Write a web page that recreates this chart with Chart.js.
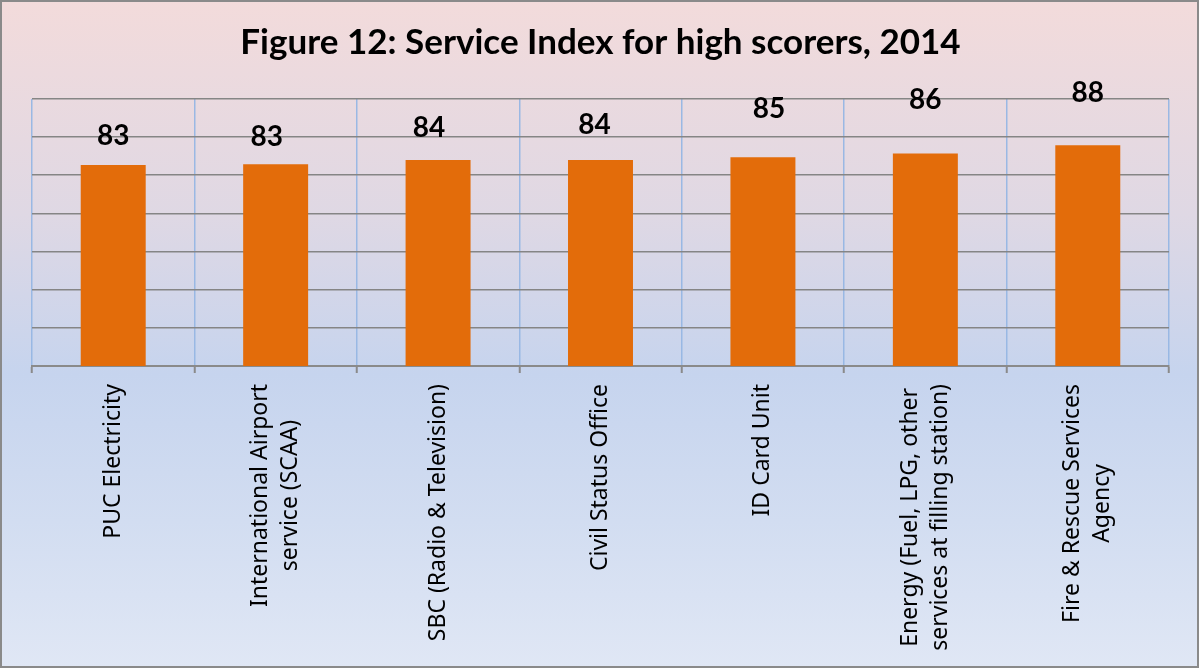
<!DOCTYPE html>
<html>
<head>
<meta charset="utf-8">
<script src="https://cdn.jsdelivr.net/npm/chart.js@4.4.1/dist/chart.umd.min.js"></script>
<style>
  html, body { margin: 0; padding: 0; }
  #wrap {
    position: relative; width: 1199px; height: 668px; overflow: hidden;
    background: linear-gradient(to bottom, #F3DBDB 0%, #DFD8E4 32%, #C6D4EE 56%, #D2DDF1 78%, #E0E7F5 100%);
  }
  #frame {
    position: absolute; left: 0; top: 0; width: 1199px; height: 668px;
    box-sizing: border-box; border: 2px solid #8a8a8a; pointer-events: none;
  }
  canvas { position: absolute; left: 0; top: 0; }
</style>
</head>
<body>
<div id="wrap">
  <canvas id="c" width="1199" height="668" style="width:1199px;height:668px;"></canvas>
  <div id="frame"></div>
</div>
<script>
// ---- data ----
const chartTitle = "Figure 12: Service Index for high scorers, 2014";
const categories = [
  ["PUC Electricity"],
  ["International Airport", "service (SCAA)"],
  ["SBC (Radio & Television)"],
  ["Civil Status Office"],
  ["ID Card Unit"],
  ["Energy (Fuel, LPG, other", "services at filling station)"],
  ["Fire & Rescue Services", "Agency"]
];
const serviceIndex = [82.7, 82.9, 84.0, 84.0, 84.7, 85.7, 87.9];
const yAxisMin = 30;
const yAxisMax = 100;
const yAxisStep = 10;

// ---- plugins ----
const valueLabels = {
  id: 'valueLabels',
  afterDatasetsDraw(chart, args, opts) {
    const ctx = chart.ctx;
    const meta = chart.getDatasetMeta(0);
    const data = chart.data.datasets[0].data;
    ctx.save();
    ctx.font = opts.font;
    ctx.fillStyle = opts.color;
    ctx.textAlign = 'center';
    ctx.textBaseline = 'middle';
    meta.data.forEach((bar, i) => {
      const n = opts.nudge[i] || [0, -30];
      ctx.fillText(String(Math.round(data[i])), bar.x + n[0], bar.y + n[1]);
    });
    ctx.restore();
  }
};

const categoryLabels = {
  id: 'categoryLabels',
  afterDraw(chart, args, opts) {
    const ctx = chart.ctx;
    const xs = chart.scales.x;
    ctx.save();
    ctx.font = opts.font;
    ctx.fillStyle = opts.color;
    ctx.textAlign = 'center';
    ctx.textBaseline = 'middle';
    chart.data.labels.forEach((lines, i) => {
      const cx = xs.getPixelForValue(i);
      const top = xs.bottom + opts.gap;
      const w = Math.max(...lines.map(l => ctx.measureText(l).width));
      ctx.save();
      ctx.translate(cx, top);
      ctx.rotate(-Math.PI / 2);
      lines.forEach((l, k) => {
        const ly = (k - (lines.length - 1) / 2) * opts.lineHeight;
        ctx.fillText(l, -w / 2, ly);
      });
      ctx.restore();
    });
    ctx.restore();
  }
};

new Chart(document.getElementById('c'), {
  type: 'bar',
  data: {
    labels: categories,
    datasets: [{
      data: serviceIndex,
      backgroundColor: '#E36C0A',
      borderWidth: 0,
      barPercentage: 0.4,
      categoryPercentage: 1.0
    }]
  },
  options: {
    responsive: false,
    animation: false,
    devicePixelRatio: 1,
    layout: { padding: { left: 32, right: 30, top: 0, bottom: 295 } },
    plugins: {
      legend: { display: false },
      tooltip: { enabled: false },
      title: {
        display: true,
        text: chartTitle,
        color: '#000000',
        font: { family: 'Lato', size: 35, weight: 'bold', lineHeight: 1.2 },
        padding: { top: 22, bottom: 35 }
      },
      valueLabels: {
        font: 'bold 28px Lato',
        color: '#000000',
        nudge: [[0, -29], [-9, -27], [-9, -32], [-6, -35], [6, -48], [0, -54], [0, -52]]
      },
      categoryLabels: {
        font: '23px "Noto Sans", "Open Sans", sans-serif',
        color: '#000000',
        gap: 11,
        lineHeight: 30
      }
    },
    scales: {
      x: {
        grid: {
          display: true,
          offset: true,
          color: 'rgba(150,182,228,0.95)',
          lineWidth: 1.5,
          drawTicks: true,
          tickLength: 7,
          tickColor: '#8a8a8a',
          tickWidth: 2
        },
        border: { display: true, color: '#8a8a8a', width: 2 },
        ticks: { display: false }
      },
      y: {
        min: yAxisMin,
        max: yAxisMax,
        ticks: { display: false, stepSize: yAxisStep },
        grid: { color: '#858585', lineWidth: 1.6, drawTicks: false },
        border: { display: false }
      }
    }
  },
  plugins: [valueLabels, categoryLabels]
});
</script>
</body>
</html>
